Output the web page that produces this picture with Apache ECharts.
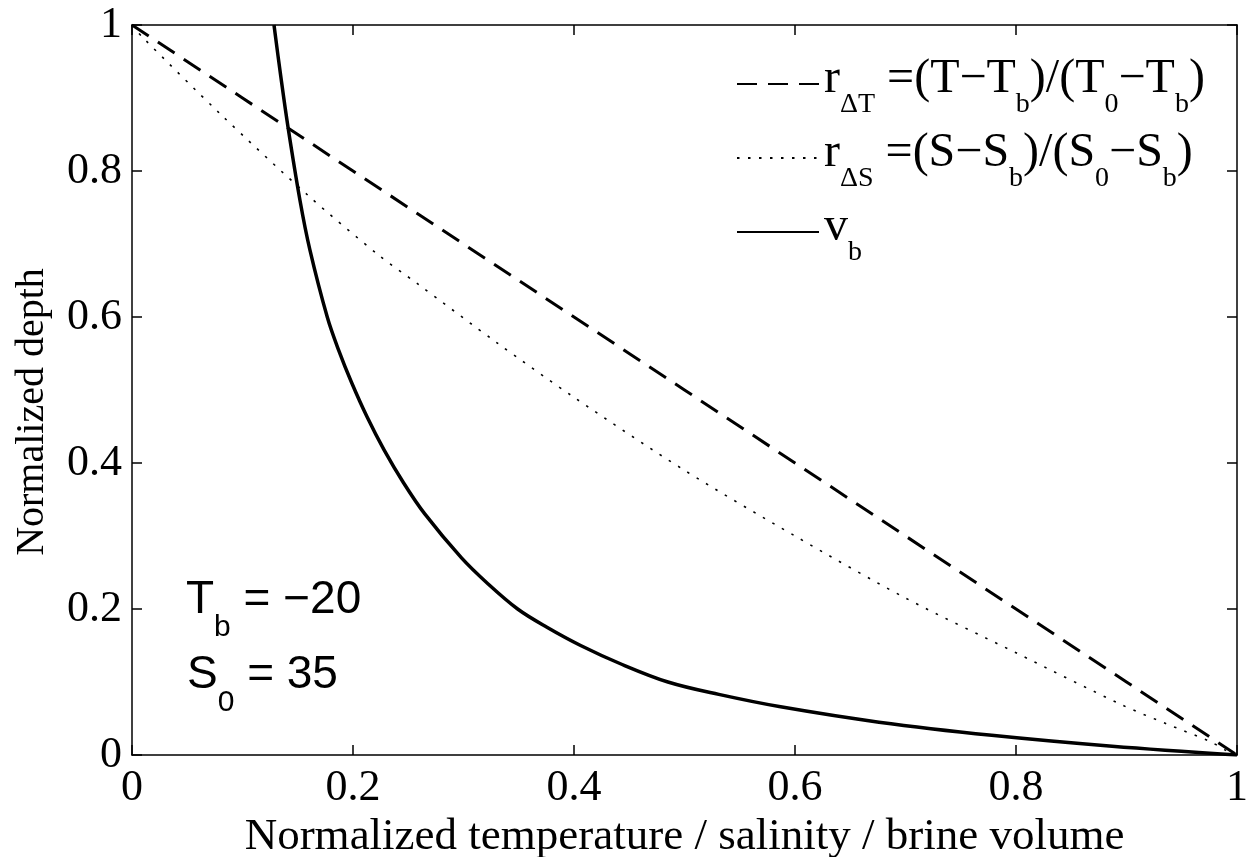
<!DOCTYPE html>
<html>
<head>
<meta charset="utf-8">
<script src="https://cdn.jsdelivr.net/npm/echarts@6/dist/echarts.min.js"></script>
<style>
html,body{margin:0;padding:0;background:#fff;}
#chart{width:1248px;height:857px;}
</style>
</head>
<body>
<div id="chart"></div>
<script>
// ---- data ----
const xTicks = [0, 0.2, 0.4, 0.6, 0.8, 1];
const yTicks = [0, 0.2, 0.4, 0.6, 0.8, 1];

// r_dT (dashed)
const rT_x = [0.0, 0.1, 0.2, 0.3, 0.4, 0.5, 0.6, 0.7, 0.8, 0.9, 1.0];
const rT_y = [1.0, 0.9, 0.8, 0.7, 0.6, 0.5, 0.4, 0.3, 0.2, 0.1, 0.0];

// r_dS (dotted)
const rS_x = [0.0, 0.009, 0.08, 0.159, 0.223, 0.258, 0.33, 0.40, 0.50, 0.60, 0.70, 0.80, 0.896, 0.935, 0.976, 0.989, 1.0];
const rS_y = [1.0, 0.984, 0.878, 0.767, 0.685, 0.646, 0.565, 0.49, 0.39, 0.30, 0.215, 0.14, 0.0685, 0.0434, 0.0182, 0.007, 0.0];

// v_b (solid)
const vb_x = [0.1285, 0.1346, 0.1412, 0.1520, 0.1610, 0.1767, 0.1869, 0.1988, 0.2128, 0.2281, 0.2457, 0.2646, 0.2982, 0.3218, 0.349, 0.3755, 0.406, 0.442, 0.485, 0.531, 0.587, 0.676, 0.778, 0.887, 1.0];
const vb_y = [1.0, 0.93, 0.860, 0.760, 0.692, 0.600, 0.555, 0.510, 0.463, 0.418, 0.373, 0.331, 0.270, 0.235, 0.200, 0.175, 0.150, 0.125, 0.100, 0.083, 0.066, 0.045, 0.027, 0.012, 0.0];

const names = ['rT', 'rS', 'vb'];

function pairs(xs, ys) { return xs.map((x, i) => [x, ys[i]]); }

const serif = 'Liberation Serif';
const sans = 'Liberation Sans';

const chart = echarts.init(document.getElementById('chart'), null, {renderer: 'canvas'});

const axisCommon = {
  type: 'value', min: 0, max: 1, interval: 0.2,
  axisLine: {show: true, onZero: false, lineStyle: {color: '#000', width: 1.5}},
  axisTick: {show: true, inside: true, length: 10, lineStyle: {color: '#000', width: 1.5}},
  splitLine: {show: false}
};

const legendLabels = {
  rT: '{m|r}{s|ΔT}{m| =(T−T}{s|b}{m|)/(T}{s|0}{m|−T}{s|b}{m|)}',
  rS: '{m|r}{s|ΔS}{m| =(S−S}{s|b}{m|)/(S}{s|0}{m|−S}{s|b}{m|)}',
  vb: '{m|v}{s|b}'
};

const option = {
  animation: false,
  backgroundColor: '#fff',
  grid: {left: 132, right: 11, top: 25, bottom: 102, containLabel: false, outerBoundsMode: 'none'},
  xAxis: [
    Object.assign({}, axisCommon, {
      position: 'bottom',
      name: 'Normalized temperature / salinity / brine volume',
      nameLocation: 'middle', nameGap: 51,
      nameTextStyle: {fontFamily: serif, fontSize: 45, color: '#000'},
      axisLabel: {show: true, margin: 11, fontFamily: serif, fontSize: 44, color: '#000',
        formatter: v => String(v)}
    }),
    Object.assign({}, axisCommon, {position: 'top', axisLabel: {show: false}})
  ],
  yAxis: [
    Object.assign({}, axisCommon, {
      position: 'left',
      name: 'Normalized depth',
      nameLocation: 'middle', nameGap: 80, nameRotate: 90,
      nameTextStyle: {fontFamily: serif, fontSize: 40, color: '#000', padding: [0, 44, 0, 0]},
      axisLabel: {show: true, margin: 10, fontFamily: serif, fontSize: 44, color: '#000',
        formatter: v => String(v)}
    }),
    Object.assign({}, axisCommon, {position: 'right', axisLabel: {show: false}})
  ],
  legend: {
    orient: 'vertical', left: 731, top: 50, padding: 5,
    itemWidth: 82, itemHeight: 14, itemGap: 10,
    data: names,
    formatter: n => legendLabels[n],
    itemStyle: {opacity: 0, borderWidth: 0},
    textStyle: {
      rich: {
        m: {fontFamily: serif, fontSize: 48, color: '#000', verticalAlign: 'top', lineHeight: 50, padding: [0, 0, 0, 0]},
        s: {fontFamily: serif, fontSize: 28, color: '#000', verticalAlign: 'top', lineHeight: 58, padding: [36, 0, 0, 0]}
      }
    }
  },
  graphic: [
    {type: 'text', left: 186, top: 577, silent: true, style: {
      text: '{m|T}{s|b}{m| = −20}',
      rich: {
        m: {fontFamily: sans, fontSize: 46, fill: '#000', verticalAlign: 'bottom', lineHeight: 46, padding: [0, 0, 20, 0]},
        s: {fontFamily: sans, fontSize: 30, fill: '#000', verticalAlign: 'bottom', lineHeight: 30}
      }}},
    {type: 'text', left: 187, top: 652, silent: true, style: {
      text: '{m|S}{s|0}{m| = 35}',
      rich: {
        m: {fontFamily: sans, fontSize: 46, fill: '#000', verticalAlign: 'bottom', lineHeight: 46, padding: [0, 0, 20, 0]},
        s: {fontFamily: sans, fontSize: 30, fill: '#000', verticalAlign: 'bottom', lineHeight: 30}
      }}}
  ],
  series: [
    {name: 'rT', type: 'line', data: pairs(rT_x, rT_y), showSymbol: false, symbol: 'none',
     lineStyle: {color: '#000', width: 3, type: [20, 11]}, itemStyle: {color: '#000'}},
    {name: 'rS', type: 'line', data: pairs(rS_x, rS_y), showSymbol: false, symbol: 'none', smooth: 0.3,
     lineStyle: {color: '#000', width: 1.6, type: [2.5, 8.5]}, itemStyle: {color: '#000'}},
    {name: 'vb', type: 'line', data: pairs(vb_x, vb_y), showSymbol: false, symbol: 'none', smooth: 0.35,
     lineStyle: {color: '#000', width: 3.5, type: 'solid'}, itemStyle: {color: '#000'}}
  ]
};
chart.setOption(option);
</script>
</body>
</html>
